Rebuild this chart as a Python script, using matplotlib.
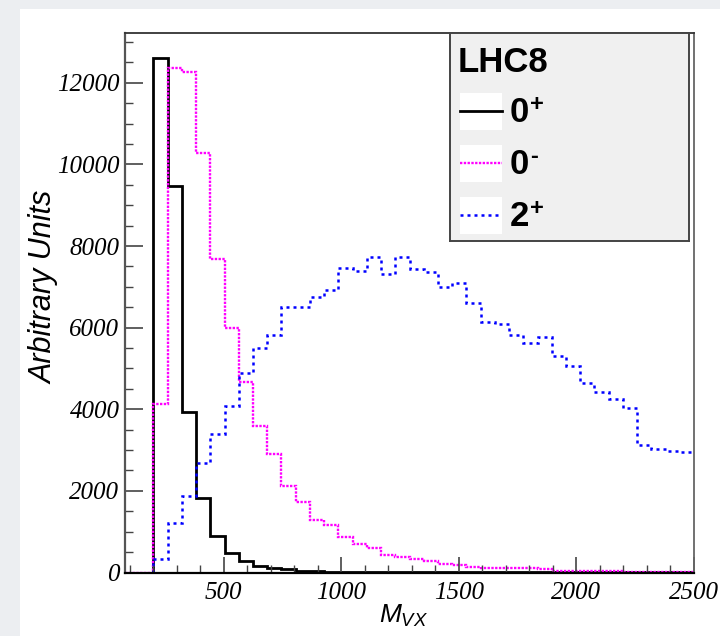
import numpy as np
import matplotlib.pyplot as plt
from matplotlib.patches import Rectangle
from matplotlib.lines import Line2D
from matplotlib.ticker import MultipleLocator

plt.rcParams['mathtext.fontset'] = 'custom'
plt.rcParams['mathtext.rm'] = 'Liberation Sans'
plt.rcParams['mathtext.it'] = 'Liberation Sans:italic'
plt.rcParams['mathtext.bf'] = 'Liberation Sans:bold'

# ── histogram contents (40 bins, 80 -> 2500) ─────────────────────────────────
x_lo, x_hi, n_bins = 80.0, 2500.0, 40

spin0p = [0, 0, 12610, 9480, 3940, 1826, 902, 485, 290, 167,
          118, 78, 45, 32, 24, 18, 14, 11, 9, 7,
          6, 5, 4, 4, 3, 3, 2, 2, 2, 2,
          1, 1, 1, 1, 1, 1, 1, 1, 1, 1]

spin0m = [0, 0, 4130, 12370, 12260, 10275, 7676, 5985, 4662, 3590,
          2897, 2120, 1735, 1287, 1164, 863, 699, 593, 429, 387,
          324, 289, 208, 184, 142, 118, 110, 105, 100, 95,
          44, 30, 28, 25, 25, 22, 20, 20, 18, 18]

spin2p = [0, 0, 324, 1206, 1882, 2676, 3395, 4081, 4897, 5502,
          5828, 6495, 6510, 6760, 6924, 7456, 7390, 7740, 7309, 7740,
          7439, 7358, 6990, 7088, 6613, 6147, 6091, 5821, 5618, 5779,
          5314, 5069, 4637, 4431, 4245, 4025, 3125, 3020, 2985, 2946]

labels = ['0', '0', '2']
parity = ['+', '-', '+']

edges = np.linspace(x_lo, x_hi, n_bins + 1)

# ── FIGURE ────────────────────────────────────────────────────────────────────
W, H = 720, 636
fig = plt.figure(figsize=(W / 100, H / 100), dpi=100)
fig.patch.set_facecolor('#eceef1')
fig.patches.append(Rectangle((20 / W, 0), 1, (H - 9) / H, transform=fig.transFigure,
                             facecolor='white', edgecolor='none', zorder=-5))

def fx(px):
    return px / W

def fy(py):
    return 1 - py / H

ax = fig.add_axes([fx(125), fy(572.5), fx(694) - fx(125), fy(33) - fy(572.5)])
ax.set_zorder(1)

styles = [
    dict(color='black', lw=2.0, linestyle='-'),
    dict(color='#ff00ff', lw=1.7, linestyle=(0, (1.0, 0.6))),
    dict(color='#0000ff', lw=1.8, linestyle=(0, (1.2, 1.6))),
]
for vals, st in zip([spin0p, spin0m, spin2p], styles):
    ax.stairs(vals, edges, baseline=None, **st)

ax.set_xlim(x_lo, x_hi)
ax.set_ylim(0, 13220)

ax.xaxis.set_major_locator(MultipleLocator(500))
ax.xaxis.set_minor_locator(MultipleLocator(100))
ax.yaxis.set_major_locator(MultipleLocator(2000))
ax.yaxis.set_minor_locator(MultipleLocator(500))
ax.tick_params(axis='x', which='major', direction='in', length=11.3, width=1.2,
               color='#444444', pad=7)
ax.tick_params(axis='x', which='minor', direction='in', length=5.8, width=1.0,
               color='#444444')
ax.tick_params(axis='y', which='major', direction='in', length=12.7, width=1.2,
               color='#444444', pad=4)
ax.tick_params(axis='y', which='minor', direction='in', length=6.0, width=1.0,
               color='#444444')
for lab in ax.get_xticklabels() + ax.get_yticklabels():
    lab.set_fontfamily('Liberation Serif')
    lab.set_fontstyle('italic')
    lab.set_fontsize(18)

ax.spines['left'].set_color('#555555')
ax.spines['left'].set_linewidth(1.6)
ax.spines['bottom'].set_color('black')
ax.spines['bottom'].set_linewidth(1.6)
ax.spines['top'].set_color('#333333')
ax.spines['top'].set_linewidth(1.3)
ax.spines['right'].set_color('#666666')
ax.spines['right'].set_linewidth(1.3)

fig.text(fx(45), fy(287), 'Arbitrary Units', rotation=90, ha='center', va='center',
         family='Liberation Sans', style='italic', fontsize=22)
fig.text(fx(404), fy(616), r'$M_{VX}$', ha='center', va='center', fontsize=19)

# ── LEGEND BOX ────────────────────────────────────────────────────────────────
lx0, ly0, lx1, ly1 = 450, 33, 689, 241
lg = fig.add_axes([fx(lx0), fy(ly1), fx(lx1) - fx(lx0), fy(ly0) - fy(ly1)])
lg.set_zorder(2)
lg.set_xlim(0, lx1 - lx0)
lg.set_ylim(ly1 - ly0, 0)
lg.set_xticks([])
lg.set_yticks([])
lg.set_facecolor('#f0f0f0')
for s in lg.spines.values():
    s.set_color('#444444')
    s.set_linewidth(1.4)

lg.text(8, 30, 'LHC8', ha='left', va='center', family='Liberation Sans',
        fontweight='bold', fontsize=25)
rows_y = [78, 130, 182]
for yc, lab, par, st in zip(rows_y, labels, parity, styles):
    lg.add_patch(Rectangle((10, yc - 18), 42, 37, facecolor='white', edgecolor='none'))
    lg.add_line(Line2D([10, 52], [yc, yc], **st))
    digit = lg.text(60, yc + 1, lab, ha='left', va='center', family='Liberation Sans',
                    fontweight='bold', fontsize=25)
    # superscript parity sign hung off the digit's top-right corner
    lg.annotate(par, xy=(1.0, 1.0), xycoords=digit, xytext=(0.3, 1.5),
                textcoords='offset points', ha='left', va='top',
                family='Liberation Sans', fontweight='bold', fontsize=17)

fig.savefig('out.png', dpi=100, facecolor=fig.get_facecolor())
